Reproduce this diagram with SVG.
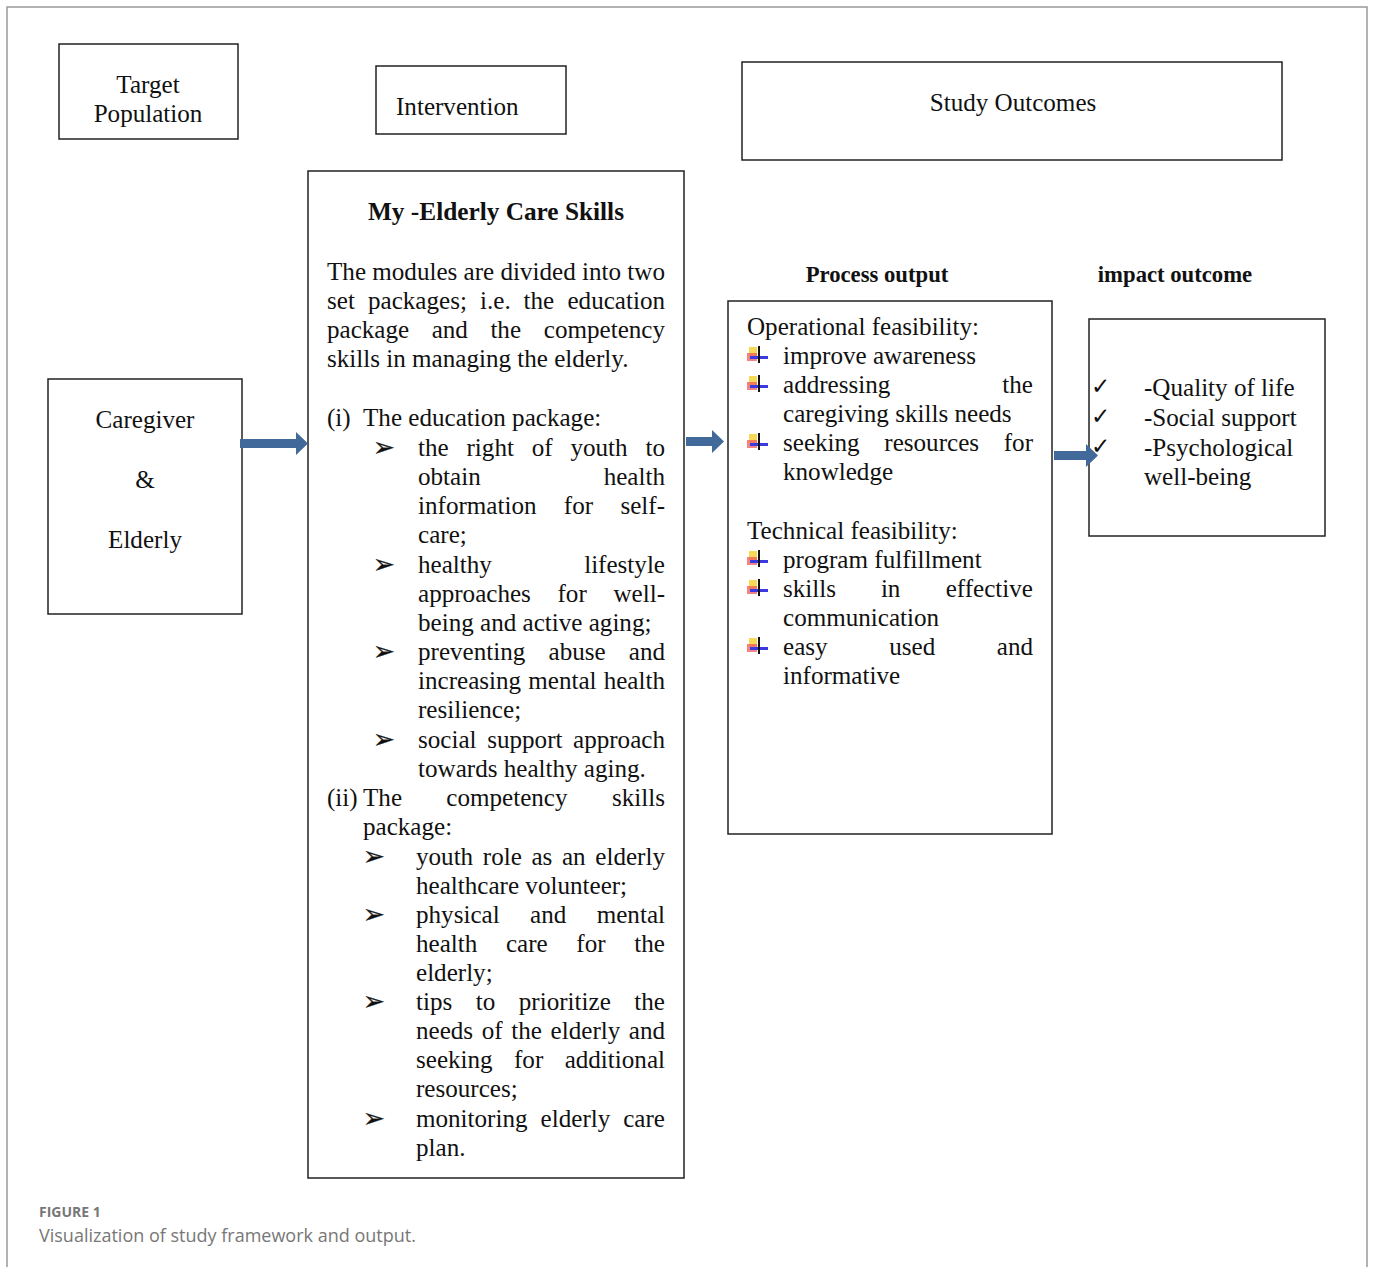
<svg xmlns="http://www.w3.org/2000/svg" width="1373" height="1267" viewBox="0 0 1373 1267">
<defs>
<style>
.box{fill:#fff;stroke:#222;stroke-width:1.5}
.t{font-family:"Liberation Serif","Times New Roman",serif;font-size:25.1px;fill:#111}
.b{font-weight:bold;font-size:22.7px}
.e{text-anchor:end}
.m{text-anchor:middle}
.sym{font-family:"DejaVu Sans",sans-serif;font-size:26px;fill:#111;stroke:#111;stroke-width:0.4}
.chk{font-family:"DejaVu Sans",sans-serif;font-size:23px;fill:#111}
.arr{fill:#41699a}
.cap1{font-family:"Open Sans","Liberation Sans",sans-serif;font-size:14px;font-weight:bold;fill:#777}
.cap2{font-family:"Open Sans","Liberation Sans",sans-serif;font-size:18px;fill:#777}
</style>
<g id="ic">
<rect x="0" y="-10" width="8" height="9" fill="#f7d23a" opacity="0.85"/>
<rect x="-2" y="-4" width="10" height="8" fill="#f05a5a" opacity="0.75"/>
<rect x="1" y="-1" width="18" height="3" fill="#3a3ae0"/>
<rect x="9" y="-11" width="2" height="17" fill="#111"/>
</g>
</defs>
<rect x="0" y="0" width="1373" height="1267" fill="#fff"/>
<path d="M7,1267 V7 H1367 V1267" fill="none" stroke="#999" stroke-width="1.5"/>

<g id="target-population">
<rect class="box" x="59" y="44" width="179" height="95"/>
<text class="t m" x="148" y="93">Target</text>
<text class="t m" x="148" y="122">Population</text>
</g>
<g id="intervention">
<rect class="box" x="376" y="66" width="190" height="68"/>
<text class="t" x="396" y="115">Intervention</text>
</g>
<g id="study-outcomes">
<rect class="box" x="742" y="62" width="540" height="98"/>
<text class="t m" x="1013" y="111">Study Outcomes</text>
</g>
<g id="caregiver-elderly">
<rect class="box" x="48" y="379" width="194" height="235"/>
<text class="t m" x="145" y="428">Caregiver</text>
<text class="t m" x="145" y="488">&amp;</text>
<text class="t m" x="145" y="548">Elderly</text>
</g>

<g id="my-elderly-care-skills">
<rect class="box" x="308" y="171" width="376" height="1007"/>
<text class="t m" x="496" y="220" style="font-weight:bold;font-size:25.3px">My -Elderly Care Skills</text>
<text class="t" x="327" y="280">The modules are divided into two</text>
<text class="t" x="327" y="309">set</text><text class="t" x="368" y="309">packages;</text><text class="t" x="480" y="309">i.e.</text><text class="t" x="523.6" y="309">the</text><text class="t e" x="665" y="309">education</text>
<text class="t" x="327" y="338">package</text><text class="t" x="431.7" y="338">and</text><text class="t" x="490.4" y="338">the</text><text class="t e" x="665" y="338">competency</text>
<text class="t" x="327" y="367">skills in managing the elderly.</text>
<text class="t" x="327" y="426">(i)</text><text class="t" x="363" y="426">The education package:</text>
<text class="sym" x="373" y="456">➢</text>
<text class="t" x="418" y="456">the</text><text class="t" x="466.5" y="456">right</text><text class="t" x="531.7" y="456">of</text><text class="t" x="570.4" y="456">youth</text><text class="t e" x="665" y="456">to</text>
<text class="t" x="418" y="485">obtain</text><text class="t e" x="665" y="485">health</text>
<text class="t" x="418" y="514">information</text><text class="t" x="563.8" y="514">for</text><text class="t e" x="665" y="514">self-</text>
<text class="t" x="418" y="543">care;</text>
<text class="sym" x="373" y="573">➢</text>
<text class="t" x="418" y="573">healthy</text><text class="t e" x="665" y="573">lifestyle</text>
<text class="t" x="418" y="602">approaches</text><text class="t" x="557.5" y="602">for</text><text class="t e" x="665" y="602">well-</text>
<text class="t" x="418" y="631">being and active aging;</text>
<text class="sym" x="373" y="660">➢</text>
<text class="t" x="418" y="660">preventing</text><text class="t" x="548.5" y="660">abuse</text><text class="t e" x="665" y="660">and</text>
<text class="t" x="418" y="689">increasing</text><text class="t" x="528.3" y="689">mental</text><text class="t e" x="665" y="689">health</text>
<text class="t" x="418" y="718">resilience;</text>
<text class="sym" x="373" y="748">➢</text>
<text class="t" x="418" y="748">social</text><text class="t" x="487.2" y="748">support</text><text class="t e" x="665" y="748">approach</text>
<text class="t" x="418" y="777">towards healthy aging.</text>
<text class="t" x="327" y="806">(ii)</text><text class="t" x="363" y="806">The</text><text class="t" x="446.3" y="806">competency</text><text class="t e" x="665" y="806">skills</text>
<text class="t" x="363" y="835">package:</text>
<text class="sym" x="363" y="865">➢</text>
<text class="t" x="416" y="865">youth</text><text class="t" x="482.8" y="865">role</text><text class="t" x="531.4" y="865">as</text><text class="t" x="561.9" y="865">an</text><text class="t e" x="665" y="865">elderly</text>
<text class="t" x="416" y="894">healthcare volunteer;</text>
<text class="sym" x="363" y="923">➢</text>
<text class="t" x="416" y="923">physical</text><text class="t" x="530.1" y="923">and</text><text class="t e" x="665" y="923">mental</text>
<text class="t" x="416" y="952">health</text><text class="t" x="505.9" y="952">care</text><text class="t" x="576.3" y="952">for</text><text class="t e" x="665" y="952">the</text>
<text class="t" x="416" y="981">elderly;</text>
<text class="sym" x="363" y="1010">➢</text>
<text class="t" x="416" y="1010">tips</text><text class="t" x="475.8" y="1010">to</text><text class="t" x="518.8" y="1010">prioritize</text><text class="t e" x="665" y="1010">the</text>
<text class="t" x="416" y="1039">needs</text><text class="t" x="481.8" y="1039">of</text><text class="t" x="511.3" y="1039">the</text><text class="t" x="550.6" y="1039">elderly</text><text class="t e" x="665" y="1039">and</text>
<text class="t" x="416" y="1068">seeking</text><text class="t" x="514" y="1068">for</text><text class="t e" x="665" y="1068">additional</text>
<text class="t" x="416" y="1097">resources;</text>
<text class="sym" x="363" y="1127">➢</text>
<text class="t" x="416" y="1127">monitoring</text><text class="t" x="540.6" y="1127">elderly</text><text class="t e" x="665" y="1127">care</text>
<text class="t" x="416" y="1156">plan.</text>
</g>

<g id="process-output">
<text class="t b m" x="877" y="282">Process output</text>
<rect class="box" x="728" y="301" width="324" height="533"/>
<text class="t" x="747" y="335">Operational feasibility:</text>
<use href="#ic" x="749" y="357"/>
<text class="t" x="783" y="364">improve awareness</text>
<use href="#ic" x="749" y="386"/>
<text class="t" x="783" y="393">addressing</text><text class="t e" x="1033" y="393">the</text>
<text class="t" x="783" y="422">caregiving skills needs</text>
<use href="#ic" x="749" y="444"/>
<text class="t" x="783" y="451">seeking</text><text class="t" x="884.3" y="451">resources</text><text class="t e" x="1033" y="451">for</text>
<text class="t" x="783" y="480">knowledge</text>
<text class="t" x="747" y="539">Technical feasibility:</text>
<use href="#ic" x="749" y="561"/>
<text class="t" x="783" y="568">program fulfillment</text>
<use href="#ic" x="749" y="590"/>
<text class="t" x="783" y="597">skills</text><text class="t" x="880.9" y="597">in</text><text class="t e" x="1033" y="597">effective</text>
<text class="t" x="783" y="626">communication</text>
<use href="#ic" x="749" y="648"/>
<text class="t" x="783" y="655">easy</text><text class="t" x="889.2" y="655">used</text><text class="t e" x="1033" y="655">and</text>
<text class="t" x="783" y="684">informative</text>
</g>

<g id="impact-outcome">
<text class="t b m" x="1175" y="282">impact outcome</text>
<rect class="box" x="1089" y="319" width="236" height="217"/>
<text class="chk" x="1091" y="394">✓</text>
<text class="t" x="1144" y="396">-Quality of life</text>
<text class="chk" x="1091" y="424">✓</text>
<text class="t" x="1144" y="426">-Social support</text>
<text class="chk" x="1091" y="454">✓</text>
<text class="t" x="1144" y="456">-Psychological</text>
<text class="t" x="1144" y="485">well-being</text>
</g>

<g id="connectors">
<path class="arr" d="M240,439 H296 V432 L308,443.5 L296,455 V448 H240 Z"/>
<path class="arr" d="M686,437 H712 V430 L724,441.5 L712,453 V446 H686 Z"/>
<path class="arr" d="M1054,451 H1086 V444 L1098,455.5 L1086,467 V460 H1054 Z"/>
</g>

<g id="caption">
<text class="cap1" x="39" y="1217">FIGURE 1</text>
<text class="cap2" x="39" y="1242">Visualization of study framework and output.</text>
</g>
</svg>
